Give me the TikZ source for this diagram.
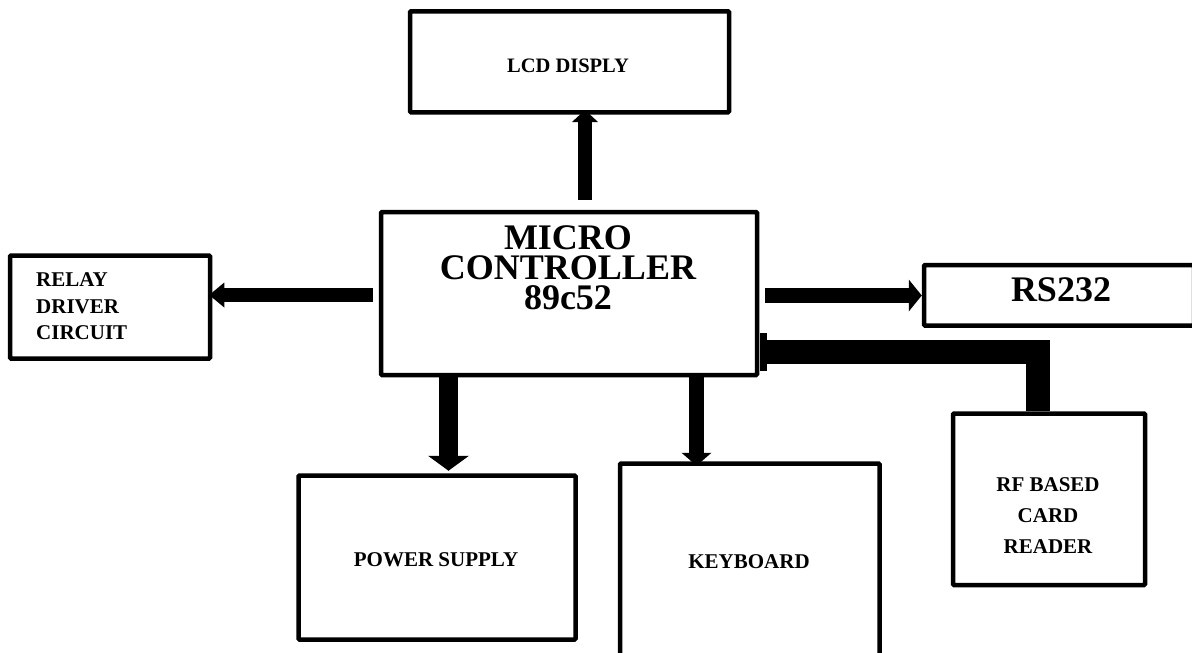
\documentclass[tikz,border=0pt]{standalone}
\usepackage{fontspec}
\setmainfont{Liberation Serif}
\usetikzlibrary{arrows.meta}
\tikzset{
  blk/.style={draw, line width=4.5pt, rounded corners=1pt, inner sep=0pt, fill=white},
  lbl/.style={inner sep=0pt, font=\bfseries\fontsize{21}{26.5}\selectfont},
  big/.style={inner sep=0pt, font=\bfseries\fontsize{36}{30}\selectfont},
  fat/.style n args={3}{line width=#1, -{Triangle[width=#2, length=#3, line width=0pt]}},
}
\begin{document}
\begin{tikzpicture}[x=1pt, y=-1pt]
\useasboundingbox (0,0) rectangle (1192,653);
\clip (0,0) rectangle (1192,653);
\fill[white] (0,0) rectangle (1192,653);
% boxes
\node[blk, minimum width=319pt, minimum height=101pt] (lcd) at (569.5,61.75) {};
\node[blk, minimum width=376pt, minimum height=163pt] (micro) at (569,293.5) {};
\node[blk, minimum width=200pt, minimum height=103pt] (relay) at (110,307) {};
\node[blk, minimum width=270pt, minimum height=60.5pt] (rs) at (1059,295.25) {};
\node[blk, minimum width=192pt, minimum height=171.5pt] (rf) at (1049,499.25) {};
\node[blk, minimum width=277pt, minimum height=164pt] (power) at (437,557.5) {};
\node[blk, minimum width=259.5pt, minimum height=193pt] (kbd) at (749.75,560) {};
% texts
\node[lbl, font=\bfseries\fontsize{20.5}{24}\selectfont, anchor=base] (lcdt) at (568,72) {LCD DISPLY};
\node[big, align=center] (microt) at (568,268) {MICRO\\CONTROLLER\\89c52};
\node[lbl, align=left, anchor=west] (relayt) at (36,306.5) {RELAY\\DRIVER\\CIRCUIT};
\node[big, anchor=base] (rst) at (1061,301) {RS232};
\node[lbl, font=\bfseries\fontsize{21}{31}\selectfont, align=center] (rft) at (1048,515.5) {RF BASED\\CARD\\READER};
\node[lbl, anchor=base] (powert) at (436,566) {POWER SUPPLY};
\node[lbl, anchor=base] (kbdt) at (749,568) {KEYBOARD};
% connectors
\draw[fat={14pt}{26pt}{12pt}] ([xshift=16pt,yshift=10pt]micro.north) -- ([xshift=15.5pt,yshift=4.5pt]lcd.south);
\draw[fat={14pt}{25pt}{15pt}] ([xshift=-6pt,yshift=-1.5pt]micro.west) -- ([xshift=-3pt,yshift=12pt]relay.east);
\draw[fat={15pt}{32pt}{13pt}] ([xshift=6pt,yshift=-2pt]micro.east) -- ([yshift=-0.25pt]rs.west);
\draw[fat={19pt}{41pt}{15pt}] ([xshift=-120.5pt,yshift=3pt]micro.south) -- ([xshift=11.5pt,yshift=2.5pt]power.north);
\draw[fat={15pt}{30pt}{13pt}] ([xshift=127.5pt,yshift=3pt]micro.south) -- ([xshift=-53.25pt,yshift=-4.5pt]kbd.north);
\draw[line width=24pt, line join=miter] ([xshift=2pt,yshift=-58.5pt]micro.east) -| ([xshift=-11.5pt]rf.north);
\fill ([xshift=1pt,yshift=-39.5pt]micro.east) rectangle ([xshift=8pt,yshift=-77.5pt]micro.east);
\end{tikzpicture}
\end{document}
